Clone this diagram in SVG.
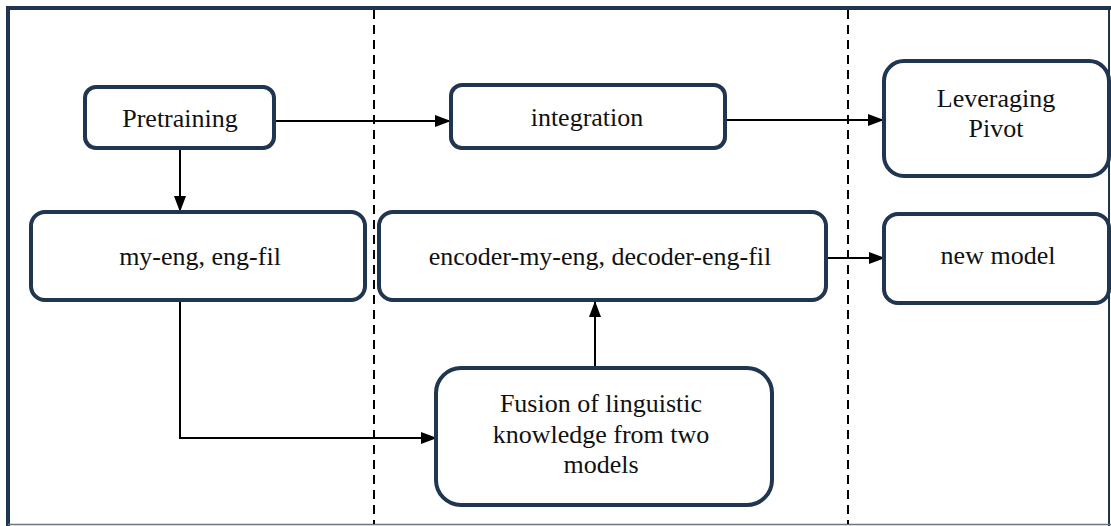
<svg xmlns="http://www.w3.org/2000/svg" width="1111" height="526" viewBox="0 0 1111 526">
<style>
.node{fill:#fff;stroke:#1f3550;stroke-width:4}
.t{font-family:'Liberation Serif','Times New Roman',Times,serif;font-size:26px;fill:#111;text-anchor:middle}
.c{fill:none;stroke:#000;stroke-width:2}
.d{stroke:#000;stroke-width:2;stroke-dasharray:9 6}
</style>
<defs>
<marker id="ah" markerWidth="16" markerHeight="14" refX="15" refY="7" orient="auto" markerUnits="userSpaceOnUse" viewBox="0 0 16 14">
<path d="M0,1 L16,7 L0,13 z" fill="#000"/>
</marker>
</defs>
<rect x="0" y="0" width="1111" height="526" fill="#fff"/>
<g id="frame">
<line x1="8" y1="8" x2="1111" y2="8" stroke="#1f3550" stroke-width="4"/>
<line x1="8" y1="6" x2="8" y2="526" stroke="#1f3550" stroke-width="4"/>
<line x1="1109" y1="8" x2="1109" y2="526" stroke="#1f3550" stroke-width="2"/>
<line x1="8" y1="524.5" x2="1111" y2="524.5" stroke="#6b7780" stroke-width="1.5"/>
<line class="d" x1="374" y1="10" x2="374" y2="524"/>
<line class="d" x1="848" y1="10" x2="848" y2="524"/>
</g>
<g id="connectors">
<line class="c" x1="275" y1="121" x2="450" y2="121" marker-end="url(#ah)"/>
<line class="c" x1="727" y1="120" x2="883" y2="120" marker-end="url(#ah)"/>
<line class="c" x1="180" y1="148" x2="180" y2="211" marker-end="url(#ah)"/>
<line class="c" x1="827" y1="258" x2="884" y2="258" marker-end="url(#ah)"/>
<polyline class="c" points="180,301 180,438 436,438" marker-end="url(#ah)"/>
<line class="c" x1="595" y1="367" x2="595" y2="302" marker-end="url(#ah)"/>
</g>
<g id="pretraining">
<rect class="node" x="85" y="87" width="189" height="61" rx="11"/>
<text class="t" x="180" y="127">Pretraining</text>
</g>
<g id="integration">
<rect class="node" x="451" y="85" width="274" height="63" rx="11"/>
<text class="t" x="587" y="126">integration</text>
</g>
<g id="leveraging">
<rect class="node" x="884" y="61" width="225" height="115" rx="20"/>
<text class="t" x="996" y="107">Leveraging</text>
<text class="t" x="996" y="137">Pivot</text>
</g>
<g id="myeng">
<rect class="node" x="31" y="212" width="334" height="88" rx="14"/>
<text class="t" x="200" y="265">my-eng, eng-fil</text>
</g>
<g id="encoder">
<rect class="node" x="379" y="212" width="447" height="88" rx="14"/>
<text class="t" x="600" y="265">encoder-my-eng, decoder-eng-fil</text>
</g>
<g id="newmodel">
<rect class="node" x="884" y="214" width="225" height="89" rx="14"/>
<text class="t" x="998" y="264">new model</text>
</g>
<g id="fusion">
<rect class="node" x="436" y="368" width="336" height="137" rx="25"/>
<text class="t" x="601" y="412">Fusion of linguistic</text>
<text class="t" x="601" y="443">knowledge from two</text>
<text class="t" x="601" y="473">models</text>
</g>
</svg>
